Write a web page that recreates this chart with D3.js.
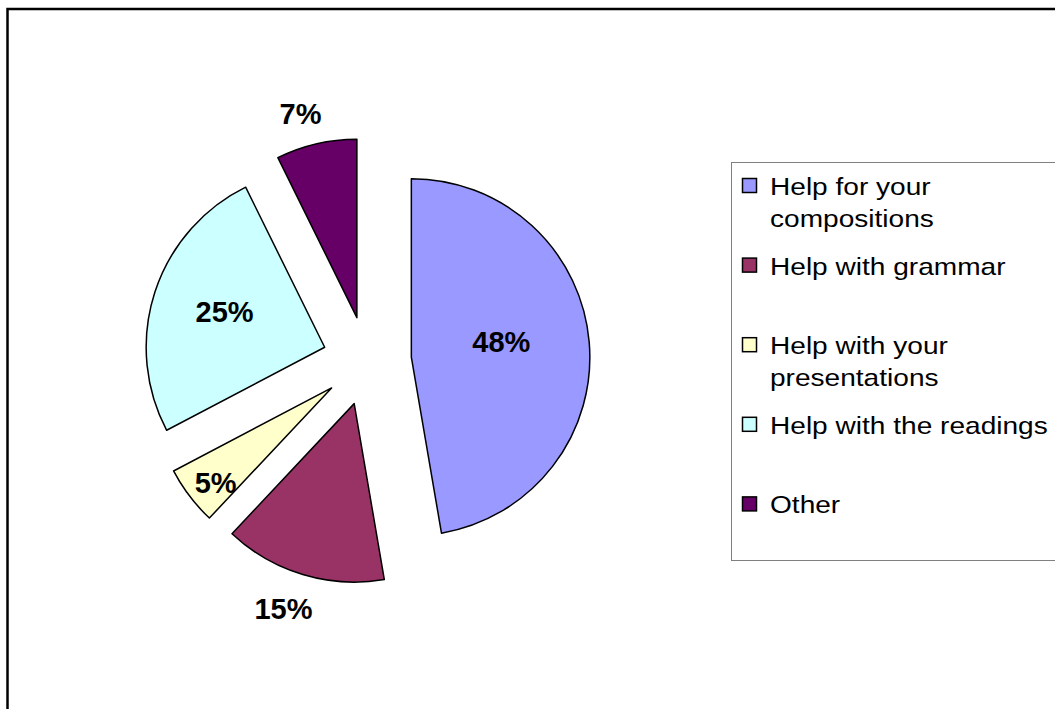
<!DOCTYPE html>
<html>
<head>
<meta charset="utf-8">
<script src="https://cdn.jsdelivr.net/npm/d3@7"></script>
<style>
  body { margin: 0; background: #fff; }
  text { font-family: Arial, "Liberation Sans", sans-serif; }
</style>
</head>
<body>
<svg id="chart" width="1055" height="709"></svg>
<script>
// данные
var categories = ['Help for your compositions', 'Help with grammar', 'Help with your presentations', 'Help with the readings', 'Other'];
var legendLines = [['Help for your', 'compositions'], ['Help with grammar'], ['Help with your', 'presentations'], ['Help with the readings'], ['Other']];
// доли секторов, как они нарисованы на картинке
var values = [47.3, 14.7, 5.3, 25.4, 7.3];
// подписи секторов
var valueLabels = ['48%', '15%', '5%', '25%', '7%'];
var colors = ['#9999ff', '#993366', '#ffffcc', '#ccffff', '#660066'];

// подписи: расстояние от вершины сектора (доля радиуса) и сдвиг угла (градусы)
var labelPos = [0.512, 1.215, 0.84, 0.596, 1.185];
var labelShift = [-5.3, 2.3, -2.1, 1.8, -2.3];

var svg = d3.select('#chart');
var width = +svg.attr('width');
var height = +svg.attr('height');

svg.append('rect')
    .attr('width', width)
    .attr('height', height)
    .attr('fill', '#fff');

// рамка области диаграммы
svg.append('rect')
    .attr('x', 7.5)
    .attr('y', 9)
    .attr('width', width + 20)
    .attr('height', height + 20)
    .attr('fill', 'none')
    .attr('stroke', '#000')
    .attr('stroke-width', 2.5);

var cx = 367, cy = 361;
var radius = 178.5;
var explode = 44.5;

var pie = d3.pie()
    .sort(null)
    .value(d => d);

var arc = d3.arc()
    .innerRadius(0)
    .outerRadius(radius);

var arcs = pie(values);

function offset(d, dist, shift) {
    var a = (d.startAngle + d.endAngle) / 2 + (shift || 0) * Math.PI / 180;
    return [Math.sin(a) * dist, -Math.cos(a) * dist];
}

var g = svg.append('g')
    .attr('transform', `translate(${cx}, ${cy})`);

var slices = g.selectAll('.slice')
    .data(arcs)
    .enter()
    .append('g')
    .attr('class', 'slice')
    .attr('transform', d => {
        var o = offset(d, explode);
        return `translate(${o[0]}, ${o[1]})`;
    });

slices.append('path')
    .attr('d', arc)
    .attr('fill', (d, i) => colors[i])
    .attr('stroke', '#000')
    .attr('stroke-width', 1.5)
    .attr('stroke-linejoin', 'round');

slices.append('text')
    .attr('x', (d, i) => offset(d, labelPos[i] * radius, labelShift[i])[0])
    .attr('y', (d, i) => offset(d, labelPos[i] * radius, labelShift[i])[1])
    .attr('dy', '0.36em')
    .attr('text-anchor', 'middle')
    .attr('font-size', 29)
    .attr('font-weight', 'bold')
    .attr('fill', '#000')
    .text((d, i) => valueLabels[i]);

// легенда
var legX = 731, legY = 162, legH = 398;
var step = legH / categories.length;

svg.append('rect')
    .attr('x', legX + 0.5)
    .attr('y', legY + 0.5)
    .attr('width', 400)
    .attr('height', legH)
    .attr('fill', '#fff')
    .attr('stroke', '#808080')
    .attr('stroke-width', 1);

var items = svg.selectAll('.legend-item')
    .data(categories)
    .enter()
    .append('g')
    .attr('class', 'legend-item')
    .attr('transform', (d, i) => `translate(${legX}, ${legY + 33 + i * step})`);

items.append('rect')
    .attr('x', 11.5)
    .attr('y', -16.5)
    .attr('width', 14)
    .attr('height', 14)
    .attr('fill', (d, i) => colors[i])
    .attr('stroke', '#000')
    .attr('stroke-width', 1.5);

items.each(function (d, i) {
    var item = d3.select(this);
    legendLines[i].forEach((line, j) => {
        item.append('text')
            .attr('transform', `translate(39, ${j * 32}) scale(1.17, 1)`)
            .attr('font-size', 24)
            .attr('fill', '#000')
            .text(line);
    });
});
</script>
</body>
</html>
